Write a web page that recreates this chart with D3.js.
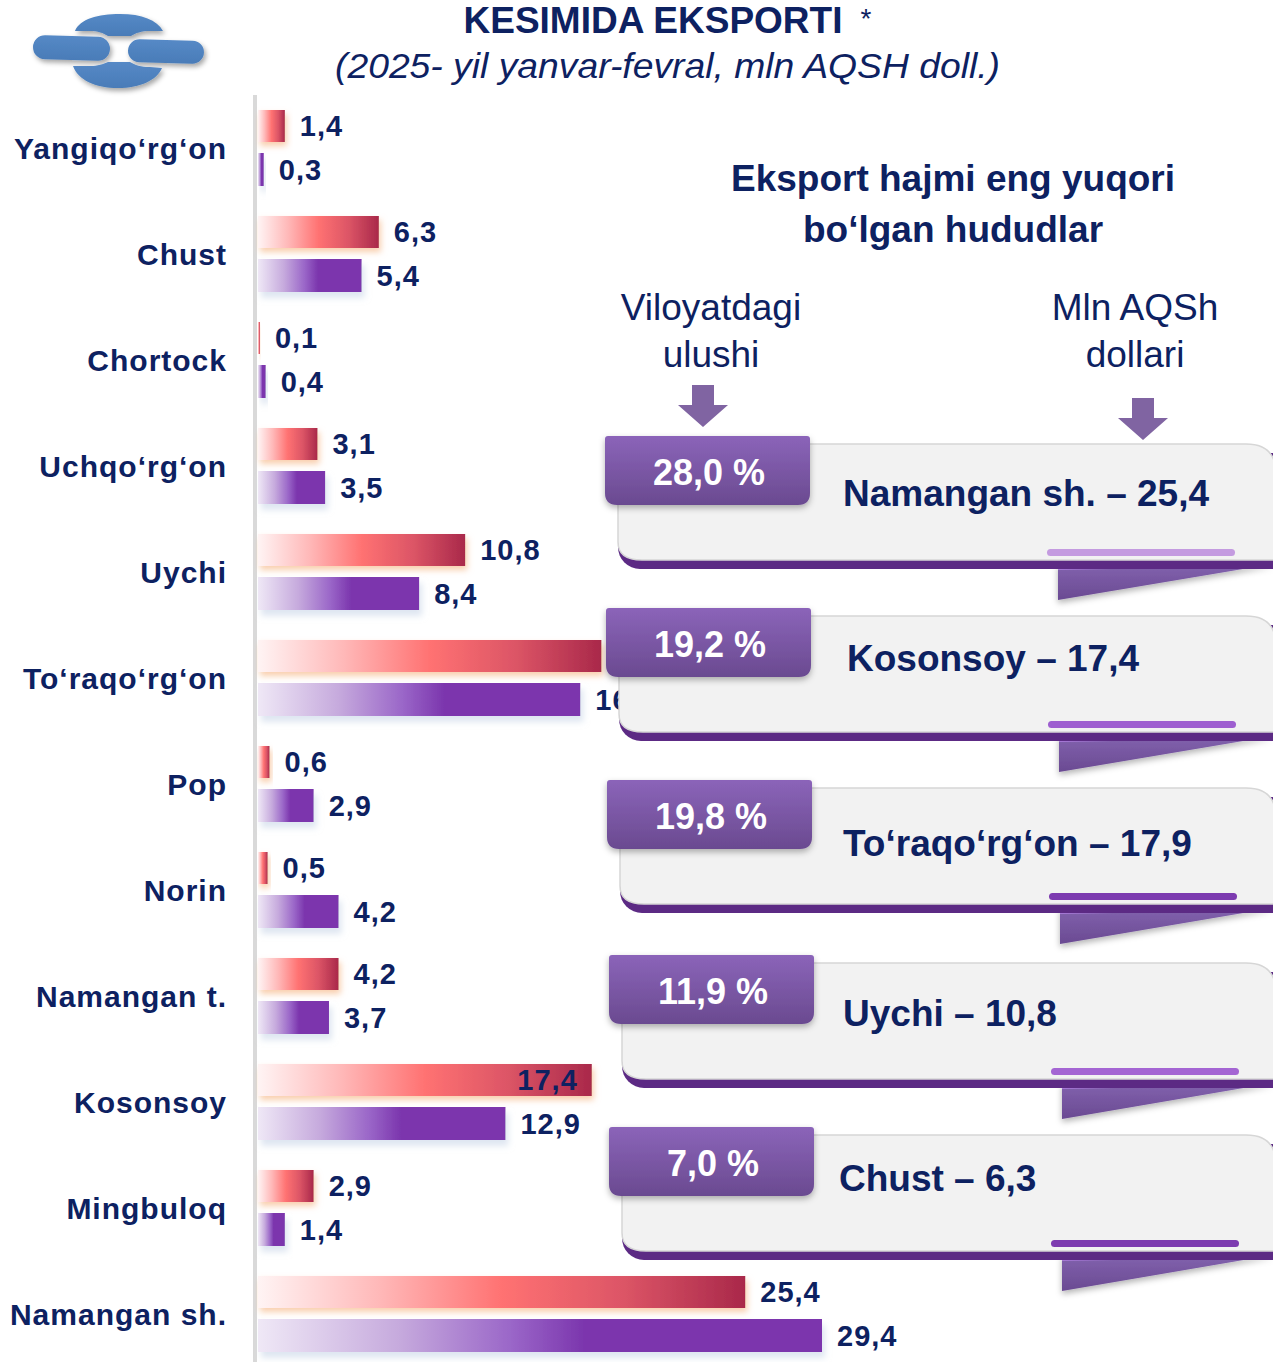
<!DOCTYPE html>
<html><head><meta charset="utf-8">
<script src="https://cdn.jsdelivr.net/npm/d3@7"></script>
<style>
html,body{margin:0;padding:0;background:#fff;}
svg{display:block;font-family:"Liberation Sans",Arial,sans-serif;}
</style></head>
<body>
<script>
// ---------- DATA ----------
const categories = ["Yangiqo‘rg‘on","Chust","Chortock","Uchqo‘rg‘on","Uychi","To‘raqo‘rg‘on","Pop","Norin","Namangan t.","Kosonsoy","Mingbuloq","Namangan sh."];
const values2025 = [1.4, 6.3, 0.1, 3.1, 10.8, 17.9, 0.6, 0.5, 4.2, 17.4, 2.9, 25.4];
const values2024 = [0.3, 5.4, 0.4, 3.5, 8.4, 16.8, 2.9, 4.2, 3.7, 12.9, 1.4, 29.4];
const topRegions = ["Namangan sh.","Kosonsoy","To‘raqo‘rg‘on","Uychi","Chust"];
const topValues  = [25.4, 17.4, 17.9, 10.8, 6.3];
const topShares  = [28.0, 19.2, 19.8, 11.9, 7.0];
const titleText = "KESIMIDA EKSPORTI";
const subtitleText = "(2025- yil yanvar-fevral, mln AQSH doll.)";
const panelTitle = ["Eksport hajmi eng yuqori","bo‘lgan hududlar"];
const colHead1 = ["Viloyatdagi","ulushi"];
const colHead2 = ["Mln AQSh","dollari"];

// ---------- LAYOUT ----------
const W = 1273, H = 1362;
const navy = "#0d2161";
const insideLabel = new Set(["Kosonsoy"]);        // red label drawn inside bar
const hiddenRedLabel = new Set(["To‘raqo‘rg‘on"]); // red label covered by card in reference
const clippedPurLabel = new Set(["To‘raqo‘rg‘on"]); // purple label partly covered by card
const cardLayout = [
  {left:605, top:436, tx:238, ty:70, pill:"#c49be0"},
  {left:606, top:608, tx:241, ty:63, pill:"#9e5fd0"},
  {left:607, top:780, tx:236, ty:76, pill:"#7d3bb0"},
  {left:609, top:955, tx:234, ty:71, pill:"#a465d3"},
  {left:609, top:1127, tx:230, ty:64, pill:"#7d3bb0"}
];
const fmt = v => d3.format(".1f")(v).replace(".", ",");

const svg = d3.select("body").append("svg").attr("width", W).attr("height", H);
const defs = svg.append("defs");

function linGrad(id, stops, vertical){
  const g = defs.append("linearGradient").attr("id", id)
    .attr("x1",0).attr("y1",0).attr("x2", vertical?0:1).attr("y2", vertical?1:0);
  stops.forEach(s => g.append("stop").attr("offset", s[0]).attr("stop-color", s[1]));
}
linGrad("gRed", [[0,"#fff4f4"],[0.25,"#ffb8b8"],[0.5,"#ff7272"],[0.75,"#dc5566"],[1,"#a9284a"]]);
linGrad("gPur", [[0,"#efe8f6"],[0.25,"#c6aadd"],[0.45,"#9a66c8"],[0.58,"#7b35ad"],[1,"#7b35ad"]]);
linGrad("gTab", [[0,"#8b64b9"],[1,"#6a4a90"]], true);
linGrad("gFlap", [[0,"#8262ae"],[1,"#6a4a92"]], true);
linGrad("gLogo", [[0,"#5589c6"],[1,"#4a7cb8"]], true);

function shadow(id, color, dx, dy, std, op){
  const f = defs.append("filter").attr("id", id).attr("x","-20%").attr("y","-40%").attr("width","150%").attr("height","200%");
  f.append("feGaussianBlur").attr("in","SourceAlpha").attr("stdDeviation",std).attr("result","b");
  f.append("feOffset").attr("in","b").attr("dx",dx).attr("dy",dy).attr("result","o");
  f.append("feFlood").attr("flood-color",color).attr("flood-opacity",op);
  f.append("feComposite").attr("in2","o").attr("operator","in").attr("result","s");
  const m = f.append("feMerge");
  m.append("feMergeNode").attr("in","s");
  m.append("feMergeNode").attr("in","SourceGraphic");
}
shadow("shRed", "#f6b98a", 2, 4, 3, 0.7);
shadow("shPur", "#c9d6e8", 3, 6, 3, 0.6);
shadow("shCard", "#000", 0, 3, 3, 0.3);
shadow("shLogo", "#000", 2, 3, 2.5, 0.35);

// ---------- LOGO ----------
const logo = svg.append("g").attr("filter","url(#shLogo)").attr("fill","url(#gLogo)");
logo.append("rect").attr("x",33).attr("y",36).attr("width",77).attr("height",24).attr("rx",12)
  .attr("transform","rotate(1.5 71 48)");
logo.append("rect").attr("x",128).attr("y",40).attr("width",76).attr("height",23).attr("rx",11.5)
  .attr("transform","rotate(1.5 166 51)");
logo.append("path").attr("d","M75,31 C80,19 98,14 120,14 C142,14 157,20 163,31 L150,31 C141,31 136,33 131,36 L108,36 C103,33 98,31 90,31 Z");
logo.append("path").attr("d","M73,66 L90,66 C98,66 103,64 108,62 L130,62 C135,65 141,67 150,67 L162,68 C157,80 141,88 118,88 C95,88 78,80 73,66 Z");

// ---------- TITLES ----------
svg.append("text").attr("x",653).attr("y",33).attr("text-anchor","middle")
  .attr("font-size",37).attr("font-weight","bold").attr("fill",navy).text(titleText);
svg.append("text").attr("x",866).attr("y",28).attr("text-anchor","middle")
  .attr("font-size",28).attr("fill",navy).text("*");
svg.append("text").attr("x",335).attr("y",78)
  .attr("font-size",35).attr("font-style","italic").attr("fill",navy)
  .attr("textLength",665).attr("lengthAdjust","spacingAndGlyphs").text(subtitleText);

// ---------- BAR CHART ----------
const x = d3.scaleLinear().domain([0, 29.4]).range([258, 822]);
const y = d3.scaleBand().domain(categories).range([110, 110 + 106*categories.length]).padding(0);
const redH = 32, purOff = 43, purH = 33;

defs.append("clipPath").attr("id","clipLeft").append("rect")
  .attr("x",0).attr("y",0).attr("width",620).attr("height",H);

// axis line
svg.append("line").attr("x1",255).attr("x2",255).attr("y1",95).attr("y2",H)
  .attr("stroke","#d9d9d9").attr("stroke-width",4);

const rows = categories.map((c,i)=>({c, r:values2025[i], p:values2024[i]}));
const g = svg.append("g");

g.selectAll("rect.pur").data(rows).join("rect").attr("class","pur")
  .attr("x", x(0)).attr("y", d=>y(d.c)+purOff)
  .attr("width", d=>x(d.p)-x(0)).attr("height", purH)
  .attr("fill","url(#gPur)").attr("filter","url(#shPur)");
g.selectAll("rect.red").data(rows).join("rect").attr("class","red")
  .attr("x", x(0)).attr("y", d=>y(d.c))
  .attr("width", d=>x(d.r)-x(0)).attr("height", redH)
  .attr("fill","url(#gRed)").attr("filter","url(#shRed)");

g.selectAll("text.vr").data(rows.filter(d=>!hiddenRedLabel.has(d.c))).join("text").attr("class","vr")
  .attr("x", d=> insideLabel.has(d.c) ? x(d.r)-14 : x(d.r)+15)
  .attr("text-anchor", d=> insideLabel.has(d.c) ? "end":"start")
  .attr("y", d=>y(d.c)+redH/2+10)
  .attr("font-size",29).attr("font-weight","bold").attr("letter-spacing",1).attr("fill",navy)
  .text(d=>fmt(d.r));
g.selectAll("text.vp").data(rows).join("text").attr("class","vp")
  .attr("x", d=>x(d.p)+15)
  .attr("y", d=>y(d.c)+purOff+purH/2+10)
  .attr("clip-path", d=> clippedPurLabel.has(d.c) ? "url(#clipLeft)" : null)
  .attr("font-size",29).attr("font-weight","bold").attr("letter-spacing",1).attr("fill",navy)
  .text(d=>fmt(d.p));

g.selectAll("text.cat").data(rows).join("text").attr("class","cat")
  .attr("x",227).attr("text-anchor","end")
  .attr("y", d=>y(d.c)+38+11)
  .attr("font-size",30).attr("font-weight","bold").attr("letter-spacing",1).attr("fill",navy)
  .text(d=>d.c);

// ---------- RIGHT PANEL HEADERS ----------
panelTitle.forEach((t,i)=>svg.append("text").attr("x",953).attr("y",191+i*51).attr("text-anchor","middle")
  .attr("font-size",37).attr("font-weight","bold").attr("fill",navy).text(t));
colHead1.forEach((t,i)=>svg.append("text").attr("x",711).attr("y",320+i*47).attr("text-anchor","middle")
  .attr("font-size",37).attr("fill",navy).text(t));
colHead2.forEach((t,i)=>svg.append("text").attr("x",1135).attr("y",320+i*47).attr("text-anchor","middle")
  .attr("font-size",37).attr("fill",navy).text(t));

function arrow(cx, top){
  svg.append("path").attr("fill","#8064a2")
    .attr("d",`M${cx-11},${top} L${cx+11},${top} L${cx+11},${top+20} L${cx+25},${top+20} L${cx},${top+42} L${cx-25},${top+20} L${cx-11},${top+20} Z`);
}
arrow(703, 385);
arrow(1143, 398);

// ---------- CARDS ----------
topRegions.forEach((name,i)=>{
  const L = cardLayout[i].left, T = cardLayout[i].top;
  const cg = svg.append("g");
  const pL = L+13, pT = T+8, pB = T+124, pR = 1276;
  // flap
  cg.append("path").attr("fill","url(#gFlap)").attr("filter","url(#shCard)")
    .attr("d",`M${L+453},${pB+4} L${W},${pB+4} L${L+453},${pB+40} Z`);
  cg.append("path").attr("fill","#a678d6")
    .attr("d",`M${L+453},${pB+4} L${W},${pB+4} L${W},${pB+6} L${L+453},${pB+10} Z`);
  // purple curl under panel
  cg.append("rect").attr("x",pL).attr("y",pT+9).attr("width",pR-pL+30).attr("height",pB-pT)
    .attr("rx",22).attr("fill","#5c2a84");
  // grey panel
  cg.append("path").attr("fill","#f2f2f2").attr("stroke","#d6d6d6").attr("stroke-width",1.5)
    .attr("d",`M${pL},${pT} L${pR-30},${pT} Q${pR},${pT} ${pR},${pT+30} L${pR},${pB} L${pL+24},${pB} Q${pL},${pB} ${pL},${pB-18} Z`);
  // pill
  cg.append("rect").attr("x",L+442).attr("y",pB-11).attr("width",188).attr("height",7).attr("rx",3.5)
    .attr("fill",cardLayout[i].pill);
  // tab
  cg.append("path").attr("fill","url(#gTab)").attr("filter","url(#shCard)")
    .attr("d",`M${L+3},${T} L${L+202},${T} Q${L+205},${T} ${L+205},${T+3} L${L+205},${T+57} Q${L+205},${T+69} ${L+193},${T+69} L${L+12},${T+69} Q${L},${T+69} ${L},${T+57} L${L},${T+3} Q${L},${T} ${L+3},${T} Z`);
  cg.append("text").attr("x",L+104).attr("y",T+49).attr("text-anchor","middle")
    .attr("font-size",36).attr("font-weight","bold").attr("fill","#fff")
    .text(fmt(topShares[i])+" %");
  cg.append("text").attr("x",L+cardLayout[i].tx).attr("y",T+cardLayout[i].ty)
    .attr("font-size",37).attr("font-weight","bold").attr("fill",navy)
    .text(name+" – "+fmt(topValues[i]));
});
</script>
</body></html>
